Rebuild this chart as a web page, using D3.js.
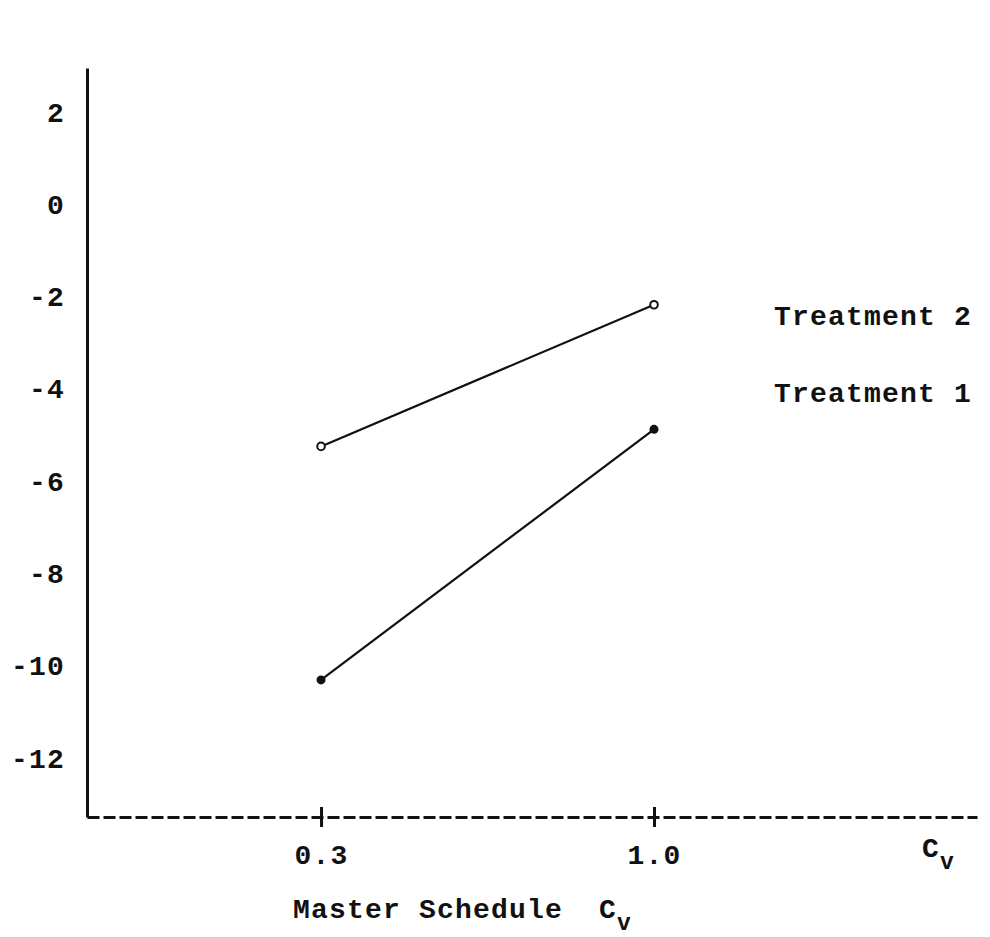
<!DOCTYPE html>
<meta charset="utf-8">
<style>
body { margin: 0; background: #fff; }
text { font-family: 'Liberation Mono', 'Courier New', monospace; font-weight: bold; fill: #111; white-space: pre; }
.tick text { font-size: 28px; letter-spacing: 1.2px; }
.label { font-size: 28px; letter-spacing: 1.2px; }
.sub { font-size: 23px; }
</style>
<body>
<script src="https://cdn.jsdelivr.net/npm/d3@7"></script>
<script>

// data
var cv = [0.3, 1.0];
var treatment1 = [-10.33, -4.9];
var treatment2 = [-5.27, -2.2];
var yTicks = [2, 0, -2, -4, -6, -8, -10, -12];
var xTicks = [0.3, 1.0];

var width = 990, height = 937;

var svg = d3.select("body").append("svg")
    .attr("width", width)
    .attr("height", height);

// scales
var x = d3.scaleLinear().domain([-0.192, 1.679]).range([87, 977]);
var y = d3.scaleLinear().domain([-13.3, 2.93]).range([817, 68]);

// y axis
var yAxis = svg.append("g")
    .attr("transform", "translate(" + x(-0.192) + ",0)")
    .call(d3.axisLeft(y).tickValues(yTicks).tickSize(0).tickSizeOuter(0).tickPadding(22)
        .tickFormat(function(d) { return d < 0 ? "-" + Math.abs(d) : d; }));
yAxis.select(".domain").attr("stroke", "#111").attr("stroke-width", 3);
yAxis.selectAll(".tick text").attr("dy", "0.36em");

// x axis, dashed like a typewriter line
var xAxis = svg.append("g")
    .attr("transform", "translate(0," + y(-13.3) + ")")
    .call(d3.axisBottom(x).tickValues(xTicks).tickSize(10).tickSizeOuter(0).tickPadding(20)
        .tickFormat(d3.format(".1f")));
xAxis.select(".domain")
    .attr("stroke", "#111").attr("stroke-width", 3)
    .attr("stroke-dasharray", "12,4");
xAxis.selectAll(".tick line")
    .attr("y1", -10).attr("stroke", "#111").attr("stroke-width", 3);
xAxis.selectAll(".tick text").attr("dy", "0.6em");

// C_v at the end of the axis
var cvLabel = svg.append("text")
    .attr("class", "label")
    .attr("x", 922)
    .attr("y", 857);
cvLabel.append("tspan").text("C");
cvLabel.append("tspan").attr("class", "sub").attr("dy", 12).text("v");

// axis title
var title = svg.append("text")
    .attr("class", "label")
    .attr("x", 293)
    .attr("y", 918);
title.append("tspan").text("Master Schedule  C");
title.append("tspan").attr("class", "sub").attr("dy", 12).text("v");

// lines
var line = d3.line()
    .x(function(d, i) { return x(cv[i]); })
    .y(function(d) { return y(d); });

[treatment1, treatment2].forEach(function(s) {
  svg.append("path")
      .datum(s)
      .attr("fill", "none")
      .attr("stroke", "#111")
      .attr("stroke-width", 2.2)
      .attr("d", line);
});

// markers: filled for treatment 1, open for treatment 2
svg.selectAll(".t1")
    .data(treatment1)
  .enter().append("circle")
    .attr("class", "t1")
    .attr("cx", function(d, i) { return x(cv[i]); })
    .attr("cy", function(d) { return y(d); })
    .attr("r", 4.5)
    .attr("fill", "#111");

svg.selectAll(".t2")
    .data(treatment2)
  .enter().append("circle")
    .attr("class", "t2")
    .attr("cx", function(d, i) { return x(cv[i]); })
    .attr("cy", function(d) { return y(d); })
    .attr("r", 3.8)
    .attr("fill", "#fff")
    .attr("stroke", "#111")
    .attr("stroke-width", 2);

// series labels
svg.append("text").attr("class", "label")
    .attr("x", 774).attr("y", 325)
    .text("Treatment 2");
svg.append("text").attr("class", "label")
    .attr("x", 774).attr("y", 402)
    .text("Treatment 1");

</script>
</body>
